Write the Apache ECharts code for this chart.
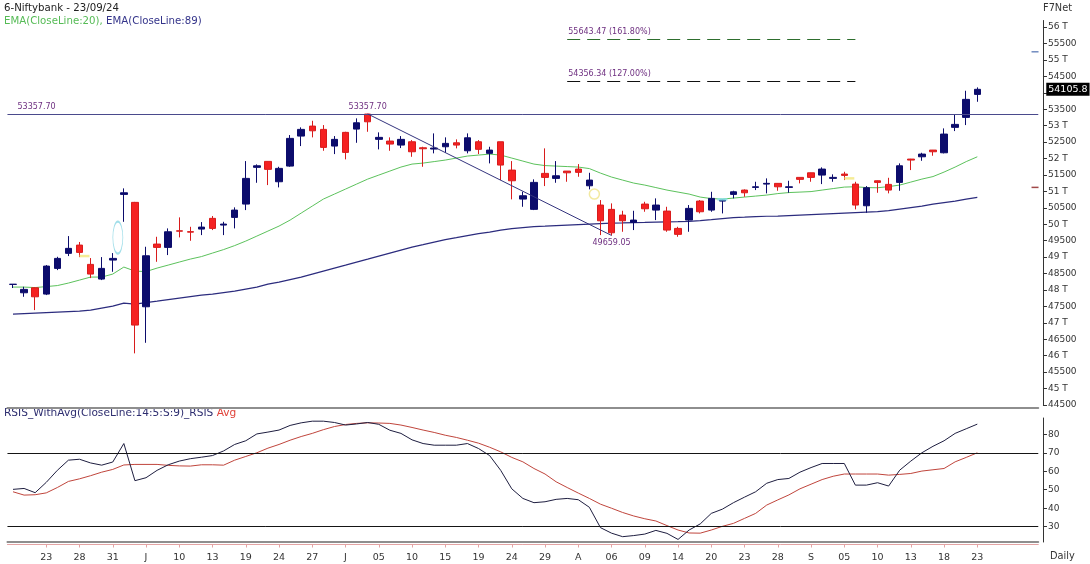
<!DOCTYPE html>
<html><head><meta charset="utf-8">
<script src="https://cdn.jsdelivr.net/npm/echarts@6/dist/echarts.min.js"></script>
<style>html,body{margin:0;padding:0;background:#fff}#c{width:1090px;height:564px}</style>
</head><body><div id="c"></div>
<script>
const dates = ['2024-05-18','2024-05-21','2024-05-22','2024-05-23','2024-05-24','2024-05-27','2024-05-28','2024-05-29','2024-05-30','2024-05-31',
'2024-06-03','2024-06-04','2024-06-05','2024-06-06','2024-06-07','2024-06-10','2024-06-11','2024-06-12','2024-06-13','2024-06-14',
'2024-06-18','2024-06-19','2024-06-20','2024-06-21','2024-06-24','2024-06-25','2024-06-26','2024-06-27','2024-06-28','2024-07-01',
'2024-07-02','2024-07-03','2024-07-04','2024-07-05','2024-07-08','2024-07-09','2024-07-10','2024-07-11','2024-07-12','2024-07-15',
'2024-07-16','2024-07-18','2024-07-19','2024-07-22','2024-07-23','2024-07-24','2024-07-25','2024-07-26','2024-07-29','2024-07-30',
'2024-07-31','2024-08-01','2024-08-02','2024-08-05','2024-08-06','2024-08-07','2024-08-08','2024-08-09','2024-08-12','2024-08-13',
'2024-08-14','2024-08-16','2024-08-19','2024-08-20','2024-08-21','2024-08-22','2024-08-23','2024-08-26','2024-08-27','2024-08-28',
'2024-08-29','2024-08-30','2024-09-02','2024-09-03','2024-09-04','2024-09-05','2024-09-06','2024-09-09','2024-09-10','2024-09-11',
'2024-09-12','2024-09-13','2024-09-16','2024-09-17','2024-09-18','2024-09-19','2024-09-20','2024-09-23'];

const xTickLabels = ['23','28','31','J','10','13','19','24','27','J','05','10','15','19','24','29','A','06','09','14','20','23','28','S','05','10','13','18','23'];

const opens = [48170,47915,48067,47875,48657,49114,49366,48779,48332,48910,
50909,50666,47489,49397,49296,49800,49775,49853,50179,49975,
50209,50614,51731,51913,51293,51770,52683,52987,52887,52379,
52796,52896,53353,52583,52531,52409,52510,52327,52288,52358,
52479,52236,52510,52157,52510,51648,50766,50453,51548,51396,
51618,51679,51171,50584,50453,50279,50057,50614,50431,50401,
49874,50127,50705,50431,50705,50909,51040,51122,51222,51244,
51122,51426,51566,51496,51396,51527,51222,50563,51323,51213,
51274,51983,52053,52257,52175,52948,53252,53952];
const closes = [48175,48018,47793,48727,48961,49266,49144,48484,48657,48961,
50958,46932,49041,49296,49771,49790,49760,49914,49874,50005,
50431,51396,51779,51670,51700,52613,52887,52844,52339,52583,
52187,53088,53118,52644,52440,52583,52206,52297,52318,52461,
52409,52631,52279,52257,51801,51323,50867,51274,51426,51475,
51566,51579,51344,50106,49740,50106,50127,50471,50584,49823,
49692,50483,50380,50787,50736,50988,50958,51140,51244,51140,
51140,51366,51426,51679,51426,51487,50584,51111,51274,51040,
51779,51953,52135,52206,52744,53039,53800,54105.8];
const lows = [48060,47793,47388,47845,48605,49032,49000,48362,48301,48554,
50075,46071,46393,48858,49062,49600,49497,49670,49823,49670,
49874,50431,51262,51192,51122,51749,52379,52644,52236,52135,
51974,52479,52814,52278,52236,52318,52053,51749,52157,52175,
52309,52157,52135,51852,51344,50757,50532,50431,51162,51262,
51293,51445,51061,49670,49659.05,49771,49823,50380,50127,49771,
49619,49771,50330,50380,50330,50787,50836,51040,50940,51019,
50958,51244,51293,51222,51293,51344,50453,50349,50958,50940,
51019,51648,51931,52084,52157,52835,53018,53727];
const highs = [48180,48097,48080,48758,49010,49640,49460,48971,49001,49123,
51092,50680,49315,49619,49874,50209,49923,50066,50250,50075,
50514,51922,51822,51920,51749,52714,52948,53149,53018,52683,
52814,53222,53357.7,52796,52644,52683,52561,52358,52765,52644,
52583,52765,52561,52358,52510,51922,50988,51366,52309,51922,
51618,51831,51566,50736,50635,50410,50410,50684,50787,50532,
49923,50584,50736,50988,50750,51019,51060,51293,51396,51250,
51323,51430,51570,51731,51518,51597,51293,51162,51330,51414,
51852,51990,52175,52260,52917,53353,54062,54165];

const ema20 = [48088,48088,48073,48103,48134,48210,48301,48393,48393,48484,
48697,48575,48560,48666,48757,48849,48940,49016,49123,49229,
49351,49488,49640,49792,49944,50127,50340,50553,50766,50918,
51070,51222,51374,51496,51618,51740,51831,51861,51907,51953,
52014,52075,52105,52135,52105,52014,51922,51831,51785,51770,
51755,51740,51694,51557,51436,51344,51253,51192,51116,51040,
50979,50918,50827,50781,50766,50796,50827,50857,50888,50933,
50964,50979,50994,51040,51086,51131,51141,51116,51110,51146,
51192,51283,51374,51451,51588,51740,51907,52053];
const ema89 = [47267,47282,47297,47312,47328,47343,47358,47388,47449,47510,
47601,47571,47617,47662,47708,47754,47799,47845,47875,47921,
47966,48027,48088,48179,48240,48316,48393,48484,48575,48666,
48757,48849,48940,49032,49123,49214,49306,49381,49458,49534,
49594,49655,49716,49762,49823,49869,49899,49929,49944,49960,
49975,49990,50005,50020,50036,50042,50051,50057,50066,50072,
50078,50090,50112,50142,50173,50203,50218,50234,50243,50249,
50264,50279,50294,50310,50325,50340,50355,50371,50386,50416,
50462,50507,50553,50614,50660,50705,50766,50818];

const rsi = [50.2,50.7,48.4,54,60.5,66,66.5,64.5,63.3,65,
75,54.9,56.5,60.5,63.5,65.5,66.8,67.6,68.5,71,
74.5,76.5,80.2,81.2,82.3,84.8,86.2,87.1,87.1,86.4,
85,85.6,86.4,85.4,82.2,80.5,77,75,74.1,74.1,
74.1,75,72.3,68.5,60.5,50.5,45.3,43,43.5,44.8,
45.3,44.6,40.5,29.5,26.5,24.6,25.2,26,28,26.4,
23.1,28.2,31.5,37.2,39.5,43,46,48.9,53.5,55.5,
56.1,59.5,62,64.2,64.2,64.2,52.5,52.5,53.8,52,
60.6,65.5,70,73.5,76.5,80.5,83,85.5];
const rsiAvg = [48.9,47.1,47.3,48.3,51.2,54.5,55.9,57.6,59.5,61,
63.4,63.7,63.7,63.7,63.2,62.9,62.8,63.5,63.5,63.3,
66,68,70,72.5,74.5,76.8,78.8,80.5,82.5,84.2,
85.3,85.9,86.2,86.1,85.9,85,83.7,82.3,81,79.5,
78.3,76.8,75.2,73,70.5,67.5,65.1,61.5,58.5,54.3,
51.2,48.2,45.3,42.2,40,37.7,35.8,34.3,33.1,30.6,
28.2,26.6,26.5,28.2,30.2,31.8,34.5,37.2,41.7,44.5,
47.2,50.5,53,55.5,57.3,58.5,58.5,58.5,58.5,57.9,
58.3,58.8,60.1,60.8,61.5,65.1,67.5,70];

const priceTicks = [44500,45000,45500,46000,46500,47000,47500,48000,48500,49000,49500,50000,50500,51000,51500,52000,52500,53000,53500,54000,54500,55000,55500,56000];
const rsiTicks = [30,40,50,60,70,80];
const rsiLevels = [70,30];

const swingHigh = 53357.70, swingLow = 49659.05, lastClose = 54105.8;
const fib1618 = 55643.47, fib127 = 54356.34;
const swingHighIdx = 32, swingLowIdx = 54, fibStartIdx = 50, fibEndIdx = 76;

// annotation marks: [date index, price]
const ellipseMark = [10, 49594];
const circleMark = [52, 50918];
const dojiMarks = [[6, 49032, '#f3e77a'], [75, 51396, '#f3e77a'], [64, 50757, '#86e3ea']];
const edgeMarks = [[55248, '#4f6fb0'], [51122, '#8a1c1c']];

const FONT = 'DejaVu Sans';
const PAD = 5;
const cats = dates.concat(Array.from({length: PAD}, (_, i) => 'pad' + i));
const BAND = 11.084;
const GL = 13 - BAND / 2;
const GW = BAND * cats.length;

const candleData = opens.map((o, i) => [o, closes[i], lows[i], highs[i]]);
const labelMap = {};
dates.forEach((d, i) => { if (i >= 3 && i % 3 === 0) labelMap[d] = xTickLabels[i / 3 - 1]; });
const showTick = (i) => i >= 3 && i < dates.length && i % 3 === 0;

const chart = echarts.init(document.getElementById('c'), null, {renderer: 'canvas'});
const purple = '#6e2f80';
const annLabel = {color: purple, fontSize: 8, fontFamily: FONT};

chart.setOption({
  animation: false,
  backgroundColor: '#fff',
  grid: [
    {left: GL, top: 20.5, width: GW, height: 384.5},
    {left: GL, top: 418, width: GW, height: 124}
  ],
  xAxis: [
    {type: 'category', gridIndex: 0, data: cats, boundaryGap: true, offset: 3,
     axisLine: {show: true, lineStyle: {color: '#8e8e8e', width: 2}},
     axisTick: {show: false}, axisLabel: {show: false}, splitLine: {show: false}},
    {type: 'category', gridIndex: 1, data: cats, boundaryGap: true,
     axisLine: {show: true, lineStyle: {color: '#8e8e8e', width: 2}},
     axisTick: {show: false}, axisLabel: {show: false}, splitLine: {show: false}},
    {type: 'category', gridIndex: 1, data: cats, boundaryGap: true, position: 'bottom', offset: 2.5,
     axisLine: {show: true, lineStyle: {color: '#e3a3a3', width: 1}},
     axisTick: {show: true, alignWithLabel: true, length: 3, interval: (i) => showTick(i), lineStyle: {color: '#e3a3a3'}},
     axisLabel: {show: true, interval: (i) => showTick(i), formatter: (v) => labelMap[v] || '',
       color: '#333', fontSize: 9.5, fontFamily: FONT, margin: 8},
     splitLine: {show: false}}
  ],
  yAxis: [
    {type: 'value', gridIndex: 0, position: 'right', offset: 4.7, min: 44500, max: 56200,
     axisLine: {show: true, lineStyle: {color: '#333'}},
     axisTick: {show: true, length: 4, customValues: priceTicks, lineStyle: {color: '#333'}},
     axisLabel: {customValues: priceTicks, color: '#333', fontSize: 9, fontFamily: FONT, margin: 5,
       formatter: (v) => (v % 1000 === 0 ? (v / 1000) + ' T' : String(v))},
     splitLine: {show: false}},
    {type: 'value', gridIndex: 1, position: 'right', offset: 4.7, min: 21.72, max: 88.82,
     axisLine: {show: true, lineStyle: {color: '#333'}},
     axisTick: {show: true, length: 4, customValues: rsiTicks, lineStyle: {color: '#333'}},
     axisLabel: {customValues: rsiTicks, color: '#333', fontSize: 9, fontFamily: FONT, margin: 5},
     splitLine: {show: false}}
  ],
  series: [
    {type: 'line', name: 'EMA89', xAxisIndex: 0, yAxisIndex: 0, data: ema89, symbol: 'none',
     lineStyle: {color: '#2c2c7e', width: 1.2}, z: 2},
    {type: 'line', name: 'EMA20', xAxisIndex: 0, yAxisIndex: 0, data: ema20, symbol: 'none',
     lineStyle: {color: '#5cc25c', width: 1}, z: 2},
    {type: 'candlestick', name: 'Niftybank', xAxisIndex: 0, yAxisIndex: 0, data: candleData, barWidth: 7,
     itemStyle: {color: '#0c0c6c', color0: '#f52222', borderColor: '#0c0c6c', borderColor0: '#d81c1c', borderWidth: 1},
     z: 3,
     markLine: {
       silent: true, symbol: ['none', 'none'], animation: false,
       data: [
         {yAxis: swingHigh, lineStyle: {color: '#4a4a8c', width: 1, type: 'solid'},
          label: Object.assign({show: true, position: 'insideStartTop', formatter: swingHigh.toFixed(2), distance: [10, 3]}, annLabel)},
         [{coord: [dates[swingHighIdx], swingHigh], lineStyle: {color: '#34347e', width: 1, type: 'solid'}, label: {show: false}},
          {coord: [dates[swingLowIdx], swingLow]}],
         [{coord: [dates[fibStartIdx], fib1618], lineStyle: {color: '#2e6e2e', width: 1, type: [13, 7]},
           label: Object.assign({show: true, position: 'insideStartTop', formatter: fib1618.toFixed(2) + ' (161.80%)', distance: [1, 3]}, annLabel)},
          {coord: [dates[fibEndIdx], fib1618]}],
         [{coord: [dates[fibStartIdx], fib127], lineStyle: {color: '#111', width: 1, type: [13, 7]},
           label: Object.assign({show: true, position: 'insideStartTop', formatter: fib127.toFixed(2) + ' (127.00%)', distance: [1, 3]}, annLabel)},
          {coord: [dates[fibEndIdx], fib127]}],
         {yAxis: lastClose, lineStyle: {color: 'rgba(0,0,0,0)', width: 0},
          label: {show: true, position: 'end', formatter: String(lastClose), distance: 8,
            color: '#fff', backgroundColor: '#000', padding: [2, 2, 1, 2], fontSize: 9.5, fontFamily: FONT}}
       ]
     },
     markPoint: {
       silent: true, animation: false,
       data: [
         {coord: [dates[swingHighIdx], swingHigh], symbol: 'circle', symbolSize: 0,
          label: Object.assign({show: true, position: 'top', distance: 3, formatter: swingHigh.toFixed(2)}, annLabel)},
         {coord: [dates[swingLowIdx], swingLow], symbol: 'circle', symbolSize: 0,
          label: Object.assign({show: true, position: 'bottom', distance: 3, formatter: swingLow.toFixed(2)}, annLabel)}
       ]
     }},
    {type: 'scatter', name: 'marks', xAxisIndex: 0, yAxisIndex: 0, silent: true, z: 4,
     data: [
       {value: [dates[ellipseMark[0]], ellipseMark[1]], symbol: 'circle', symbolSize: [10, 32], symbolOffset: [-6, 0],
        itemStyle: {color: 'rgba(0,0,0,0)', borderColor: '#8ad6e4', borderWidth: 1.3}},
       {value: [dates[circleMark[0]], circleMark[1]], symbol: 'circle', symbolSize: 10, symbolOffset: [5, 0],
        itemStyle: {color: 'rgba(0,0,0,0)', borderColor: '#efe48a', borderWidth: 1.5}}
     ].concat(dojiMarks.map(m => ({value: [dates[m[0]], m[1]], symbol: 'rect', symbolSize: [10, 2.5],
        symbolOffset: [m[0] === 64 ? 0 : 5, 0], itemStyle: {color: m[2]}})))
      .concat(edgeMarks.map(m => ({value: [cats[cats.length - 1], m[0]], symbol: 'rect', symbolSize: [7, 1.5],
        symbolOffset: [2.3, 0], itemStyle: {color: m[1]}})))},
    {type: 'line', name: 'RSIS', xAxisIndex: 1, yAxisIndex: 1, data: rsi, symbol: 'none',
     lineStyle: {color: '#1e1e40', width: 1}, z: 3,
     markLine: {silent: true, symbol: ['none', 'none'], animation: false,
       lineStyle: {color: '#151515', width: 1, type: 'solid'}, label: {show: false},
       data: rsiLevels.map(v => ({yAxis: v}))}},
    {type: 'line', name: 'Avg', xAxisIndex: 1, yAxisIndex: 1, data: rsiAvg, symbol: 'none',
     lineStyle: {color: '#c0453c', width: 1}, z: 2}
  ],
  graphic: [
    {type: 'text', left: 4, top: 3, style: {text: '6-Niftybank - 23/09/24', fill: '#222', fontSize: 10.2, fontFamily: FONT}},
    {type: 'text', left: 4, top: 15.5, style: {text: '{g|EMA(CloseLine:20),} {b|EMA(CloseLine:89)}',
      rich: {g: {fill: '#55bb55', fontSize: 10.2, fontFamily: FONT}, b: {fill: '#34348a', fontSize: 10.2, fontFamily: FONT}}}},
    {type: 'text', left: 1043, top: 3, style: {text: 'F7Net', fill: '#333', fontSize: 9.8, fontFamily: FONT}},
    {type: 'text', left: 4, top: 407, style: {text: '{b|RSIS_WithAvg(CloseLine:14:5:S:9)_RSIS} {r|Avg}',
      rich: {b: {fill: '#2e2e70', fontSize: 10.6, fontFamily: FONT}, r: {fill: '#e0433a', fontSize: 10.6, fontFamily: FONT}}}},
    {type: 'text', left: 1050, top: 551, style: {text: 'Daily', fill: '#333', fontSize: 9.8, fontFamily: FONT}}
  ]
});
</script>
</body></html>
